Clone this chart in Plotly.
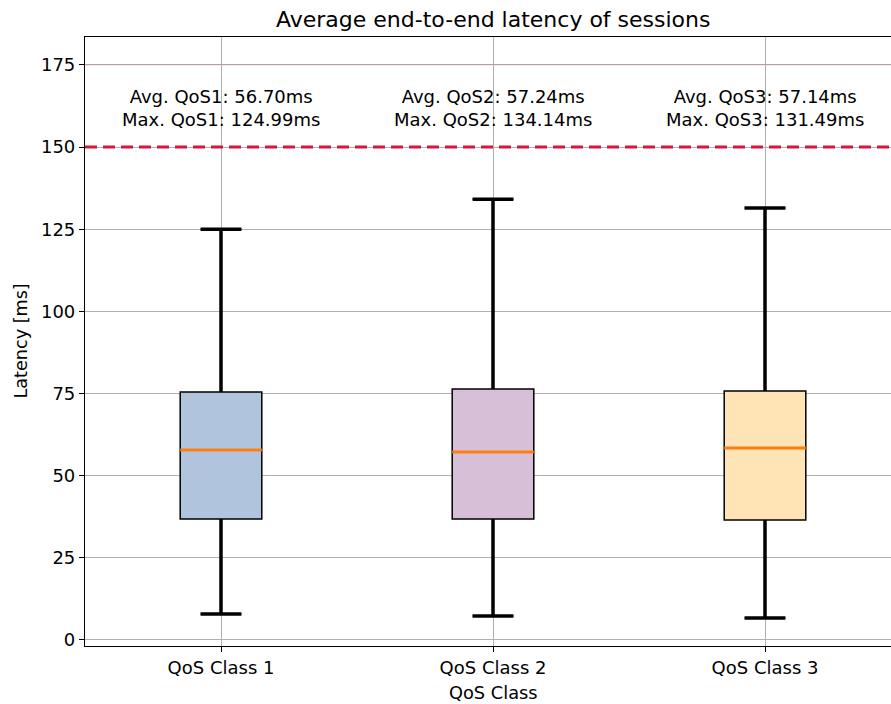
import plotly.graph_objects as go

# Session latency summary per QoS class (ms)
classes = ["QoS Class 1", "QoS Class 2", "QoS Class 3"]
short_names = ["QoS1", "QoS2", "QoS3"]
positions = [1, 2, 3]
q1 = [36.8, 36.8, 36.5]
median = [57.8, 57.2, 58.4]
q3 = [75.5, 76.4, 75.8]
whisker_low = [7.9, 7.3, 6.7]
whisker_high = [124.99, 134.14, 131.49]
avg_latency = [56.70, 57.24, 57.14]
max_latency = [124.99, 134.14, 131.49]
fill_colors = ["#B0C4DE", "#D8BFD8", "#FFE4B5"]
latency_limit = 150
upper_reference = 175
y_ticks = [0, 25, 50, 75, 100, 125, 150, 175]

BOX_W = 0.3
CAP_FRAC = 0.5
FONT = "DejaVu Sans"

fig = go.Figure()

# Boxes with thin black outline
for p, a, m, b, lo, hi, c in zip(positions, q1, median, q3, whisker_low, whisker_high, fill_colors):
    fig.add_trace(go.Box(
        x=[p], q1=[a], median=[m], q3=[b], lowerfence=[lo], upperfence=[hi],
        width=BOX_W, whiskerwidth=CAP_FRAC, fillcolor=c,
        line=dict(color="black", width=1.5),
        showlegend=False, hoverinfo="skip",
    ))

# Heavy whiskers and caps drawn on top
half_cap = BOX_W * CAP_FRAC / 2
for p, a, b, lo, hi in zip(positions, q1, q3, whisker_low, whisker_high):
    fig.add_trace(go.Scatter(
        x=[p, p, None, p - half_cap, p + half_cap, None, p, p, None, p - half_cap, p + half_cap],
        y=[b, hi, None, hi, hi, None, a, lo, None, lo, lo],
        mode="lines", line=dict(color="black", width=3.5),
        showlegend=False, hoverinfo="skip",
    ))

# Orange median bars
for p, m in zip(positions, median):
    fig.add_trace(go.Scatter(
        x=[p - BOX_W / 2, p + BOX_W / 2], y=[m, m],
        mode="lines", line=dict(color="#FF7F0E", width=3),
        showlegend=False, hoverinfo="skip",
    ))

# Latency limit and upper reference lines
fig.add_shape(type="line", xref="paper", x0=0, x1=1, yref="y",
              y0=latency_limit, y1=latency_limit,
              line=dict(color="#DC143C", width=3, dash="12px,6px"))
fig.add_shape(type="line", xref="paper", x0=0, x1=1, yref="y",
              y0=upper_reference, y1=upper_reference,
              line=dict(color="rgba(220,20,60,0.2)", width=1))

# Per-class stats text
for p, s, av, mx in zip(positions, short_names, avg_latency, max_latency):
    fig.add_annotation(
        x=p, y=162, xref="x", yref="y",
        text=f"Avg. {s}: {av:.2f}ms<br>Max. {s}: {mx:.2f}ms",
        showarrow=False, font=dict(family=FONT, size=18, color="black"),
        align="center", xanchor="center", yanchor="middle",
    )

# Title and axis labels
fig.add_annotation(x=2, xref="x", y=1, yref="paper", yshift=18,
                   text="Average end-to-end latency of sessions", showarrow=False,
                   font=dict(family=FONT, size=22, color="black"),
                   xanchor="center", yanchor="middle")
fig.add_annotation(x=2, xref="x", y=0, yref="paper", yshift=-46,
                   text="QoS Class", showarrow=False,
                   font=dict(family=FONT, size=17.8, color="black"),
                   xanchor="center", yanchor="middle")
fig.add_annotation(x=0, xref="paper", xshift=-65, y=0.5, yref="paper",
                   text="Latency [ms]", textangle=-90, showarrow=False,
                   font=dict(family=FONT, size=17.6, color="black"),
                   xanchor="center", yanchor="middle")

fig.update_layout(
    width=891, height=704,
    margin=dict(l=85, r=0, t=37, b=58),
    plot_bgcolor="white", paper_bgcolor="white",
    font=dict(family=FONT, size=18, color="black"),
    showlegend=False,
)
fig.update_xaxes(
    range=[0.5, 0.5 + 806 / 272], tickmode="array", tickvals=positions, ticktext=classes,
    showgrid=True, gridcolor="#B0B0B0", gridwidth=1, zeroline=False,
    showline=True, linecolor="black", linewidth=1.2, mirror=True,
    ticks="outside", ticklen=5, tickcolor="black", tickfont=dict(size=18),
)
fig.update_yaxes(
    range=[-1.83, 183.5], tickmode="array", tickvals=y_ticks,
    showgrid=True, gridcolor="#B0B0B0", gridwidth=1, zeroline=False,
    showline=True, linecolor="black", linewidth=1.2,
    ticks="outside", ticklen=5, tickcolor="black", tickfont=dict(size=18),
)

fig.write_html("out.html")
